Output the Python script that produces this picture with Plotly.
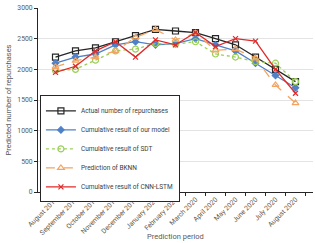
import plotly.graph_objects as go

periods = ["August 2019", "September 2019", "October 2019", "November 2019", "December 2019",
           "January 2020", "February 2020", "March 2020", "April 2020", "May 2020",
           "June 2020", "July 2020", "August 2020"]
actual = [2200, 2300, 2350, 2450, 2550, 2650, 2625, 2600, 2500, 2400, 2200, 2000, 1800]
our_model = [2100, 2200, 2250, 2400, 2450, 2400, 2420, 2500, 2400, 2300, 2100, 1900, 1700]
sdt = [1980, 2000, 2150, 2300, 2330, 2420, 2410, 2450, 2250, 2200, 2125, 2100, 1800]
bknn = [2040, 2140, 2200, 2300, 2520, 2650, 2480, 2590, 2310, 2330, 2180, 1745, 1450]
cnn_lstm = [1950, 2050, 2300, 2450, 2200, 2480, 2400, 2600, 2370, 2500, 2460, 2000, 1610]
y_ticks = [0, 500, 1000, 1500, 2000, 2500, 3000]

series = [
    ("Actual number of repurchases", actual, "#262626", "solid", "square-open", 6),
    ("Cumulative result of our model", our_model, "#4F81C7", "solid", "diamond", 5),
    ("Cumulative result of SDT", sdt, "#9BCF5A", "dot", "circle-open", 6),
    ("Prediction of BKNN", bknn, "#F4A460", "dash", "triangle-up-open", 6),
    ("Cumulative result of CNN-LSTM", cnn_lstm, "#E02A2A", "solid", "x-thin-open", 5),
]

fig = go.Figure()
for name, vals, color, dash, sym, size in series:
    fig.add_trace(go.Scatter(
        x=periods, y=vals, name=name, mode="lines+markers",
        line=dict(color=color, width=1.3, dash=dash),
        marker=dict(symbol=sym, size=size, color=color,
                    line=dict(color=color, width=1.2)),
    ))

font = "Roboto, 'Liberation Sans', sans-serif"
fig.update_layout(
    width=315, height=243,
    margin=dict(l=38, r=2, t=8, b=51),
    paper_bgcolor="white", plot_bgcolor="white",
    font=dict(family=font, size=7, color="#595959"),
    showlegend=True,
    legend=dict(
        x=0.007, y=0.525, xanchor="left", yanchor="top",
        bgcolor="white", bordercolor="#262626", borderwidth=1,
        font=dict(size=6.5, color="#404040"),
        itemwidth=30, tracegroupgap=0,
    ),
    xaxis=dict(
        automargin=False,
        tickangle=-45, showgrid=False, showline=True, linecolor="#262626", linewidth=1,
        ticks="outside", ticklen=3, tickcolor="#262626", tickson="boundaries",
        tickfont=dict(size=6.8, color="#595959"),
    ),
    yaxis=dict(
        automargin=False,
        title=dict(text="Predicted number of repurchases", font=dict(size=7.5, color="#595959"), standoff=4),
        range=[0, 3000], tickvals=y_ticks, showgrid=True, gridcolor="#E3E3E3", gridwidth=1,
        showline=True, linecolor="#262626", linewidth=1, ticks="outside", ticklen=3,
        tickcolor="#262626", tickfont=dict(size=6.8, color="#595959"), zeroline=False,
    ),
    annotations=[dict(
        text="Prediction period", xref="paper", yref="paper", x=0.5, y=-0.24,
        xanchor="center", yanchor="middle", showarrow=False,
        font=dict(size=7.5, color="#595959"),
    )],
)

fig.write_html("out.html", config={"displayModeBar": False},
               post_script="document.body.style.margin='0';")
